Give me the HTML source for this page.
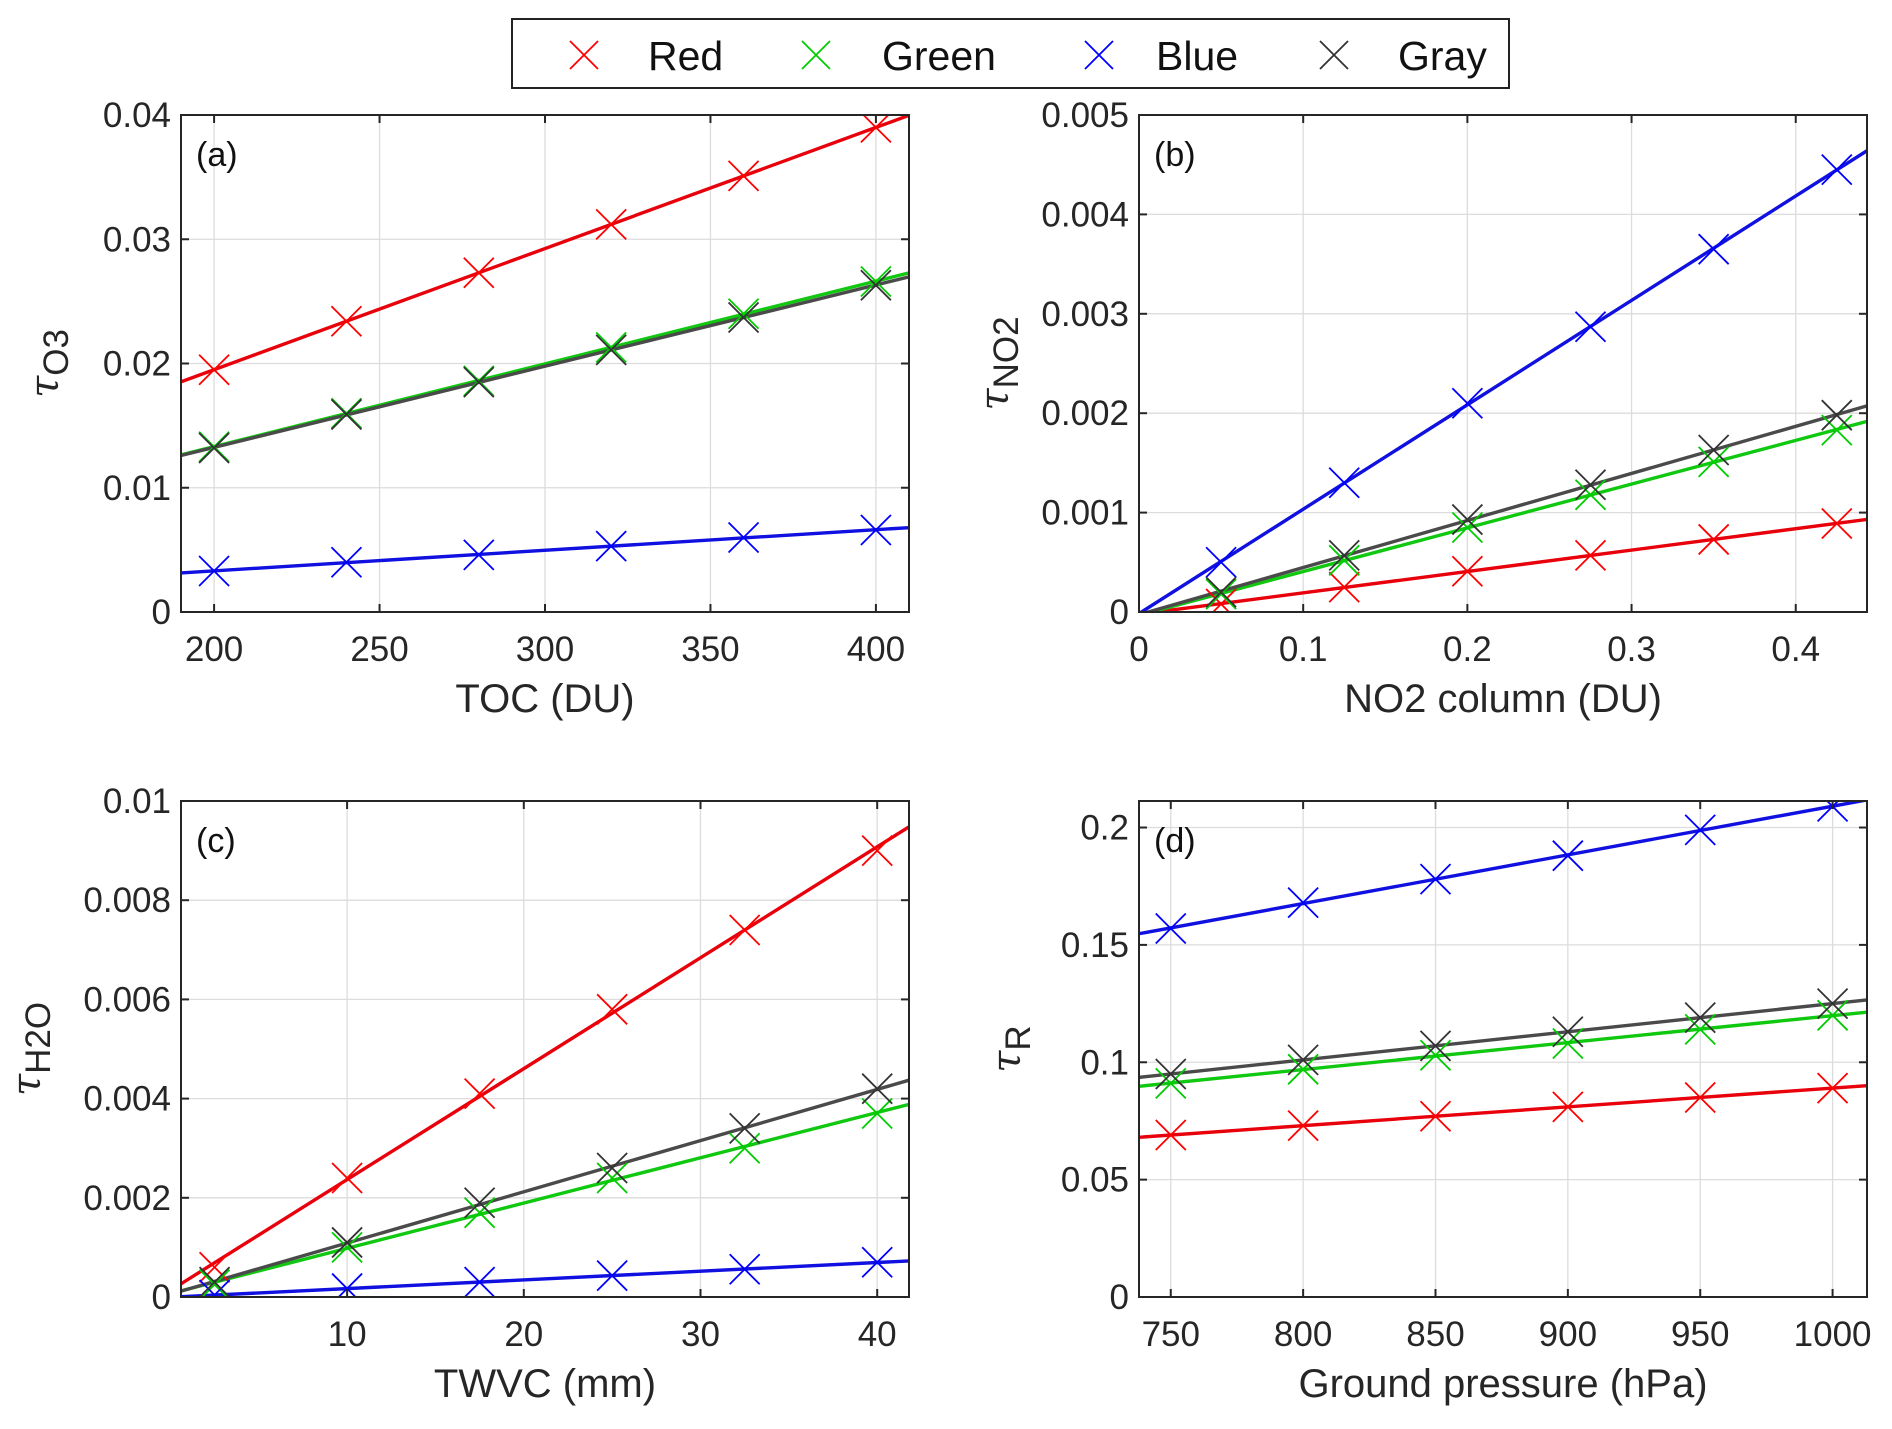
<!DOCTYPE html>
<html><head><meta charset="utf-8"><style>
html,body{margin:0;padding:0;background:#fff;}
svg{display:block;font-family:"Liberation Sans",Arial,sans-serif;}
</style></head><body>
<svg id="fig" width="1892" height="1429" viewBox="0 0 1892 1429" xmlns="http://www.w3.org/2000/svg">
<g>
<rect x="512" y="19" width="997" height="69" fill="#fff" stroke="#222" stroke-width="2"/>
<g><path d="M570 41 L598 69 M598 41 L570 69" stroke="#ff0000" stroke-width="1.8"/><text x="648" y="70" font-size="41" fill="#111">Red</text></g>
<g><path d="M802 41 L830 69 M830 41 L802 69" stroke="#00cc00" stroke-width="1.8"/><text x="882" y="70" font-size="41" fill="#111">Green</text></g>
<g><path d="M1085 41 L1113 69 M1113 41 L1085 69" stroke="#0000ff" stroke-width="1.8"/><text x="1156" y="70" font-size="41" fill="#111">Blue</text></g>
<g><path d="M1320 41 L1348 69 M1348 41 L1320 69" stroke="#333" stroke-width="1.8"/><text x="1398" y="70" font-size="41" fill="#111">Gray</text></g>
</g>
</svg>
<script>
// Panel (a)
const xA=[200,240,280,320,360,400];
const aRed=[0.0195,0.0234,0.0273,0.0312,0.0351,0.0390];
const aGreen=[0.0133,0.0160,0.0186,0.0213,0.0240,0.0266];
const aBlue=[0.0033,0.0040,0.0046,0.0053,0.0060,0.0066];
const aGray=[0.0132,0.0159,0.0185,0.0211,0.0237,0.0263];
const aXTicks=[200,250,300,350,400];
const aYTicks=[0,0.01,0.02,0.03,0.04];
const aYTickLabels=["0","0.01","0.02","0.03","0.04"];
// Panel (b)
const xB=[0.05,0.125,0.2,0.275,0.35,0.425];
const bRed=[0.00008,0.00025,0.00041,0.00057,0.00073,0.00089];
const bGreen=[0.00018,0.00052,0.00085,0.00118,0.00151,0.00183];
const bBlue=[0.0005,0.0013,0.0021,0.00287,0.00365,0.00445];
const bGray=[0.0002,0.00057,0.00093,0.00128,0.00163,0.00198];
const bXTicks=[0,0.1,0.2,0.3,0.4];
const bXTickLabels=["0","0.1","0.2","0.3","0.4"];
const bYTicks=[0,0.001,0.002,0.003,0.004,0.005];
const bYTickLabels=["0","0.001","0.002","0.003","0.004","0.005"];
// Panel (c)
const xC=[2.5,10,17.5,25,32.5,40];
const cRed=[0.0006,0.0024,0.0041,0.0058,0.0074,0.0090];
const cGreen=[0.00025,0.0010,0.0017,0.0024,0.0030,0.0037];
const cBlue=[0.00004,0.00017,0.0003,0.00043,0.00056,0.0007];
const cGray=[0.0003,0.0011,0.0019,0.0026,0.0034,0.0042];
const cXTicks=[10,20,30,40];
const cYTicks=[0,0.002,0.004,0.006,0.008,0.01];
const cYTickLabels=["0","0.002","0.004","0.006","0.008","0.01"];
// Panel (d)
const xD=[750,800,850,900,950,1000];
const dRed=[0.069,0.073,0.077,0.081,0.085,0.089];
const dGreen=[0.091,0.097,0.103,0.108,0.114,0.120];
const dBlue=[0.157,0.168,0.178,0.188,0.199,0.209];
const dGray=[0.095,0.101,0.107,0.113,0.119,0.125];
const dXTicks=[750,800,850,900,950,1000];
const dYTicks=[0,0.05,0.1,0.15,0.2];
const dYTickLabels=["0","0.05","0.1","0.15","0.2"];

const NS="http://www.w3.org/2000/svg";
const fig=document.getElementById('fig');
const COL={red:["#ff0000","#e8000b"],green:["#00cc00","#10c810"],blue:["#0000ff","#1010e0"],gray:["#333333","#4a4a4a"]};
function mk(tag,attrs,parent){const e=document.createElementNS(NS,tag);for(const k in attrs)e.setAttribute(k,attrs[k]);parent.appendChild(e);return e;}
function fit(xs,ys){const n=xs.length;let mx=0,my=0;for(let i=0;i<n;i++){mx+=xs[i];my+=ys[i];}mx/=n;my/=n;let sxy=0,sxx=0;for(let i=0;i<n;i++){sxy+=(xs[i]-mx)*(ys[i]-my);sxx+=(xs[i]-mx)**2;}const b=sxy/sxx;return [b,my-b*mx];}
function panel(o){
  const g=mk('g',{},fig);
  
  
  const X=v=>o.L+(v-o.x0)/(o.x1-o.x0)*(o.R-o.L);
  const Y=v=>o.B-(v-o.y0)/(o.y1-o.y0)*(o.B-o.T);
  o.xt.forEach(t=>{const l=mk('line',{x1:X(t),x2:X(t),y1:o.T,y2:o.B,stroke:'#dcdcdc','stroke-width':1.3},g);});
  o.yt.forEach(t=>{const l=mk('line',{x1:o.L,x2:o.R,y1:Y(t),y2:Y(t),stroke:'#dcdcdc','stroke-width':1.3},g);});
  const cid='clip'+o.name;
  const cp=mk('clipPath',{id:cid},g);mk('rect',{x:o.L,y:o.T,width:o.R-o.L,height:o.B-o.T},cp);
  const sg=mk('g',{'clip-path':'url(#'+cid+')'},g);
  
  
  o.series.forEach(s=>{
    const [b,a]=fit(o.xs,s.v);
    const xa=o.lineFrom!==undefined?o.lineFrom:o.x0;
    const ln=mk('line',{x1:X(xa),y1:Y(a+b*xa),x2:X(o.x1),y2:Y(a+b*o.x1),stroke:COL[s.c][1],'stroke-width':3.4},sg);
    
    
  });
  o.series.forEach(s=>{
    s.v.forEach((v,i)=>{
      const cx=X(o.xs[i]),cy=Y(v),r=15;
      const m=mk('path',{d:`M${cx-r} ${cy-r} L${cx+r} ${cy+r} M${cx+r} ${cy-r} L${cx-r} ${cy+r}`,stroke:COL[s.c][0],'stroke-width':1.8,fill:'none'},sg);
      
      
    });
  });
  const bx=mk('rect',{x:o.L,y:o.T,width:o.R-o.L,height:o.B-o.T,fill:'none',stroke:'#262626','stroke-width':2},g);
  
  o.xt.forEach((t,i)=>{
    mk('line',{x1:X(t),x2:X(t),y1:o.B,y2:o.B-8,stroke:'#262626','stroke-width':2},g);
    mk('line',{x1:X(t),x2:X(t),y1:o.T,y2:o.T+8,stroke:'#262626','stroke-width':2},g);
    const tx=mk('text',{x:X(t),y:o.B+49,'font-size':35,'text-anchor':'middle',fill:'#262626'},g);
    tx.textContent=o.xtl?o.xtl[i]:String(t);
    
  });
  o.yt.forEach((t,i)=>{
    mk('line',{x1:o.L,x2:o.L+8,y1:Y(t),y2:Y(t),stroke:'#262626','stroke-width':2},g);
    mk('line',{x1:o.R,x2:o.R-8,y1:Y(t),y2:Y(t),stroke:'#262626','stroke-width':2},g);
    const tx=mk('text',{x:o.L-10,y:Y(t)+12,'font-size':35,'text-anchor':'end',fill:'#262626'},g);
    tx.textContent=o.ytl[i];
    
  });
  const pl=mk('text',{x:o.L+15,y:o.T+51,'font-size':34,fill:'#111'},g);
  pl.textContent=o.tag;
  const xl=mk('text',{x:(o.L+o.R)/2,y:o.B+100,'font-size':40,'text-anchor':'middle',fill:'#262626'},g);
  xl.textContent=o.xlab;
  const yl=mk('text',{x:0,y:0,'font-size':40,'text-anchor':'middle',fill:'#262626',transform:`translate(${o.yx},${(o.T+o.B)/2}) rotate(-90)`},g);
  
  const t1=mk('tspan',{'font-family':'"DejaVu Serif",serif','font-style':'italic'},yl);t1.textContent='τ';
  const t2=mk('tspan',{dy:10,'font-size':35},yl);t2.textContent=o.sub;
}
panel({name:'panel-a-ozone',tag:'(a)',L:181,R:909,T:115,B:612,x0:190,x1:410,y0:0,y1:0.04,xs:xA,xt:aXTicks,yt:aYTicks,ytl:aYTickLabels,xlab:'TOC (DU)',sub:'O3',yx:58,
 series:[{c:'red',v:aRed},{c:'green',v:aGreen},{c:'blue',v:aBlue},{c:'gray',v:aGray}]});
panel({name:'panel-b-no2',tag:'(b)',L:1139,R:1867,T:115,B:612,x0:0,x1:0.4434,y0:0,y1:0.005,xs:xB,xt:bXTicks,xtl:bXTickLabels,yt:bYTicks,ytl:bYTickLabels,xlab:'NO2 column (DU)',sub:'NO2',yx:1008,lineFrom:0,
 series:[{c:'red',v:bRed},{c:'green',v:bGreen},{c:'blue',v:bBlue},{c:'gray',v:bGray}]});
panel({name:'panel-c-h2o',tag:'(c)',L:181,R:909,T:801,B:1297,x0:0.6,x1:41.8,y0:0,y1:0.01,xs:xC,xt:cXTicks,yt:cYTicks,ytl:cYTickLabels,xlab:'TWVC (mm)',sub:'H2O',yx:40,
 series:[{c:'red',v:cRed},{c:'green',v:cGreen},{c:'blue',v:cBlue},{c:'gray',v:cGray}]});
panel({name:'panel-d-rayleigh',tag:'(d)',L:1139,R:1867,T:801,B:1297,x0:738,x1:1013,y0:0,y1:0.2113,xs:xD,xt:dXTicks,yt:dYTicks,ytl:dYTickLabels,xlab:'Ground pressure (hPa)',sub:'R',yx:1020,
 series:[{c:'red',v:dRed},{c:'green',v:dGreen},{c:'blue',v:dBlue},{c:'gray',v:dGray}]});
</script>
</body></html>
